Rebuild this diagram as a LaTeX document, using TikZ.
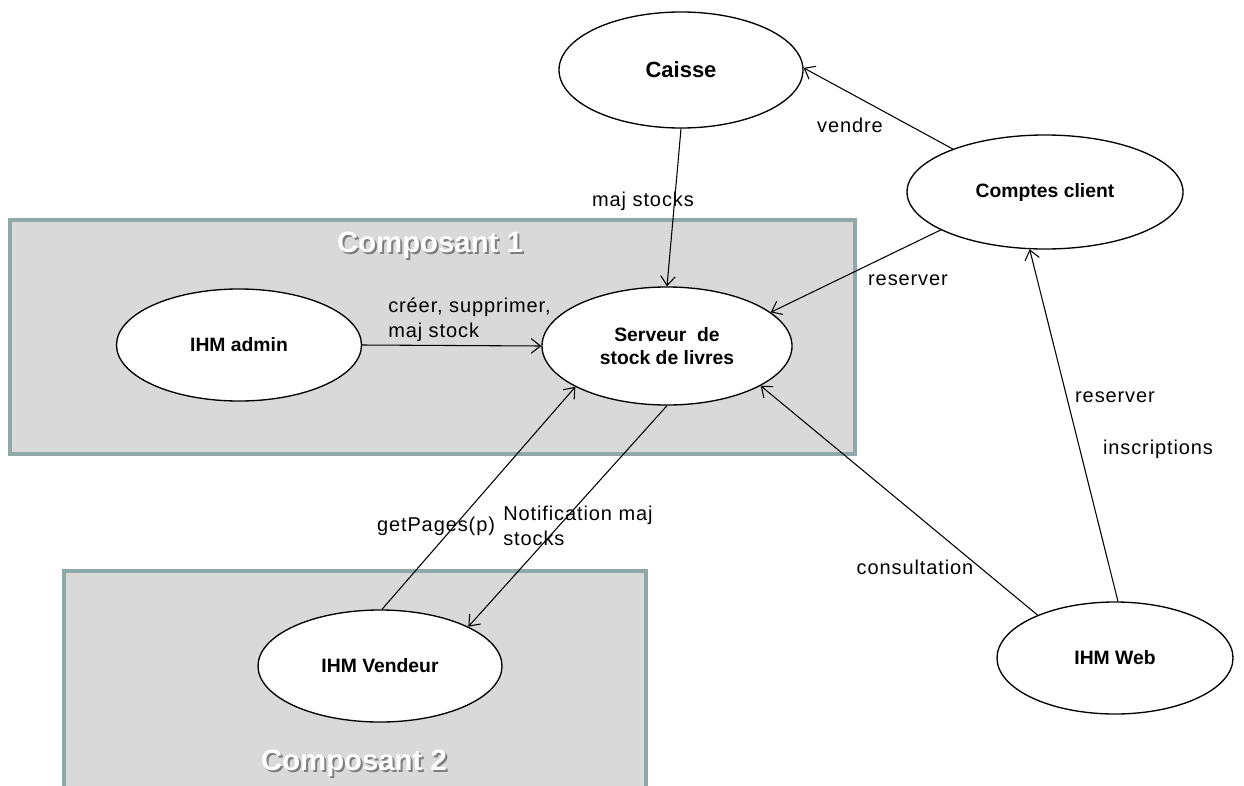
\documentclass[tikz,border=0pt]{standalone}
\usepackage{fontspec}
\setmainfont{Liberation Sans}
\newfontfamily\lblfont[LetterSpace=4.5]{Liberation Sans}
\usetikzlibrary{shapes.geometric,arrows.meta}
\definecolor{compfill}{HTML}{D9D9D9}
\definecolor{compdraw}{HTML}{8FA8A8}
\definecolor{shadowgray}{HTML}{7F7F7F}
\tikzset{
  comp/.style={fill=compfill,draw=compdraw,line width=3pt},
  ell/.style={ellipse,draw=black,fill=white,line width=1pt,inner sep=0pt,
    font=\fontsize{14.5}{17}\selectfont\bfseries,align=center},
  conn/.style={line width=0.8pt,-{Straight Barb[length=7pt,width=11pt,line width=0.8pt]}},
  lbl/.style={font=\lblfont\fontsize{15}{18.5}\selectfont,inner sep=0pt},
  comptitle/.style={font=\fontsize{22}{24}\selectfont\bfseries,text=white,inner sep=0pt},
  compshadow/.style={font=\fontsize{22}{24}\selectfont\bfseries,text=shadowgray,inner sep=0pt}
}
\begin{document}
\begin{tikzpicture}[x=0.75pt,y=-0.75pt]
\useasboundingbox[fill=white] (0,0) rectangle (1244,785);
% components
\draw[comp] (10,220) rectangle (855,454);
\draw[comp] (64,571) rectangle (646,800);
\node[compshadow] (c1s) at (432,247) {Composant 1};
\node[comptitle] (c1) at (430,245) {Composant 1};
\node[compshadow] (c2s) at (356,765) {Composant 2};
\node[comptitle] (c2) at (354,763) {Composant 2};
% nodes
\node[ell,minimum width=183pt,minimum height=87pt,font=\fontsize{16.5}{19}\selectfont\bfseries] (caisse) at (681,70) {Caisse};
\node[ell,minimum width=207pt,minimum height=85.5pt] (comptes) at (1045,192) {Comptes client};
\node[ell,minimum width=183.75pt,minimum height=84pt] (admin) at (239,345) {IHM admin};
\node[ell,minimum width=187.5pt,minimum height=88.5pt] (serveur) at (667,346) {Serveur\ \ de\\stock de livres};
\node[ell,minimum width=183pt,minimum height=84pt] (vendeur) at (380,666) {IHM Vendeur};
\node[ell,minimum width=177pt,minimum height=84pt] (web) at (1115,658) {IHM Web};
% connectors
\draw[conn] (comptes.155.7) -- (caisse.1);
\draw[conn] (caisse.-90) -- (serveur.90);
\draw[conn] (comptes.-160.2) -- (serveur.18.4);
\draw[conn] (admin.0) -- (serveur.180);
\draw[conn] (vendeur.88) -- (serveur.-156.3);
\draw[conn] (serveur.-90) -- (vendeur.24.7);
\draw[conn] (web.151.2) -- (serveur.-23.4);
\draw[conn] (web.87) -- (comptes.-105);
% labels
\node[lbl] (lvendre) at (850,125) {vendre};
\node[lbl] (lmaj) at (643,201) {maj stocks};
\node[lbl] (lres1) at (908,280) {reserver};
\node[lbl,align=left,anchor=west] (lcreer) at (388,320) {créer, supprimer,\\maj stock};
\node[lbl] (lget) at (436,526) {getPages(p)};
\node[lbl,align=left,anchor=west] (lnotif) at (503,526) {Notification maj\\stocks};
\node[lbl] (lcons) at (915,567) {consultation};
\node[lbl] (lres2) at (1115,397) {reserver};
\node[lbl] (lins) at (1158,449) {inscriptions};
\end{tikzpicture}
\end{document}
